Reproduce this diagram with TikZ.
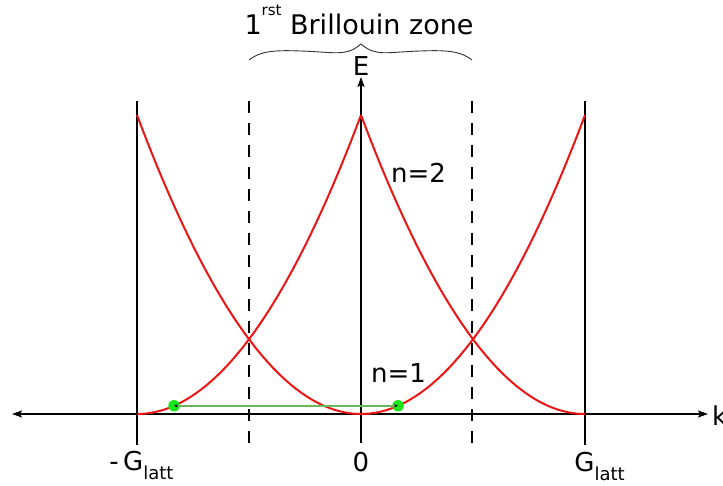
\documentclass[tikz,border=0pt]{standalone}
\usepackage{fontspec}
\setmainfont{DejaVu Sans}
\usetikzlibrary{calc,arrows.meta,positioning}
\definecolor{bandred}{rgb}{0.93,0.08,0.08}
\definecolor{dotgreen}{rgb}{0.1,0.9,0.1}
\definecolor{linkgreen}{rgb}{0.42,0.72,0.36}
\newcommand{\latt}{\raisebox{-9pt}{\fontsize{18}{20}\selectfont latt}}
\tikzset{
	axis tip/.tip={Stealth[length=10pt,width=7pt,inset=2pt]},
	axis/.style={line width=1.3pt, black},
	latt_line/.style={line width=1.3pt, black},
	zone_line/.style={line width=1.3pt, black, dash pattern=on 12pt off 10pt},
	band/.style={line width=2pt, bandred},
	kpoint/.style={circle, fill=dotgreen, minimum size=11.5pt, inner sep=0pt},
	label_text/.style={font=\fontsize{26}{30}\selectfont, inner sep=0pt},
	equiv_arrow/.style={draw=linkgreen, line width=1.6pt, {Stealth[black,length=4pt,width=3pt]}-{Stealth[black,length=4pt,width=3pt]}}
}
\begin{document}
\begin{tikzpicture}[x=1pt,y=1pt]
	\useasboundingbox (0,0) rectangle (723,486);
	% reference points on the k axis
	\coordinate (O)    at (361,72);
	\coordinate (Gm)   at (137,72);
	\coordinate (Gp)   at (585,72);
	\coordinate (Zm)   at (249,72);
	\coordinate (Zp)   at (472,72);
	\coordinate (kmin) at (12,72);
	\coordinate (kmax) at (708,72);
	% lattice and zone boundaries
	\foreach \p in {Gm,Gp}
		\draw[latt_line] ($(\p)+(0,313)$) -- ($(\p)+(0,-31)$);
	\foreach \p in {Zm,Zp}
		\draw[zone_line] ($(\p)+(0,313)$) -- ($(\p)+(0,-31)$);
	% axes
	\draw[axis, {axis tip}-{axis tip}] (kmin) -- (kmax);
	\draw[axis, -{axis tip}] ($(O)+(0,-29)$) -- ($(O)+(0,337)$);
	% free electron parabolas
	\draw[band, shift={(O)}]  plot[domain=-224:224, samples=80] (\x,{299*(\x/224)^2});
	\draw[band, shift={(Gm)}] plot[domain=0:224, samples=50] (\x,{299*(\x/224)^2});
	\draw[band, shift={(Gp)}] plot[domain=-224:0, samples=50] (\x,{299*(\x/224)^2});
	% equivalent k points
	\node[kpoint] (k1) at ($(Gm)+(37,8.2)$) {};
	\node[kpoint] (k2) at ($(O)+(37,8.2)$) {};
	\draw[equiv_arrow] (k1.center) -- (k2.center);
	% labels
	\node[label_text] (E) at ($(O)+(0,348)$) {E};
	\node[label_text, anchor=west] (k) at ($(kmax)+(4,-2)$) {k};
	\node[label_text, anchor=base] (zero) at ($(O)+(0,-58)$) {0};
	\node[label_text, anchor=base] (gm_lbl) at ($(Gm)+(4.5,-57)$) {-\,G\latt};
	\node[label_text, anchor=base] (gp_lbl) at ($(Gp)+(14.5,-58)$) {G\latt};
	\node[label_text] (n2) at ($(O)+(57.5,241.5)$) {n=2};
	\node[label_text] (n1) at ($(O)+(37.5,40.5)$) {n=1};
	% first zone
	\draw[line width=0.9pt, black!80]
		($(Zm)+(0,354)$) .. controls +(11,9) and +(-25,1) .. ($(Zm)+(51,363)$)
		.. controls +(35,-1) and +(-15,-13) .. ($(O)+(0,370)$)
		.. controls +(15,-13) and +(-35,-1) .. ($(Zp)+(-51,363)$)
		.. controls +(25,1) and +(-11,9) .. ($(Zp)+(0,354)$);
	\node[font=\fontsize{27}{30}\selectfont, inner sep=0pt, anchor=base] (bz)
		at (359,451) {1\raisebox{19pt}{\fontsize{15}{16}\selectfont rst} Brillouin zone};
\end{tikzpicture}
\end{document}
